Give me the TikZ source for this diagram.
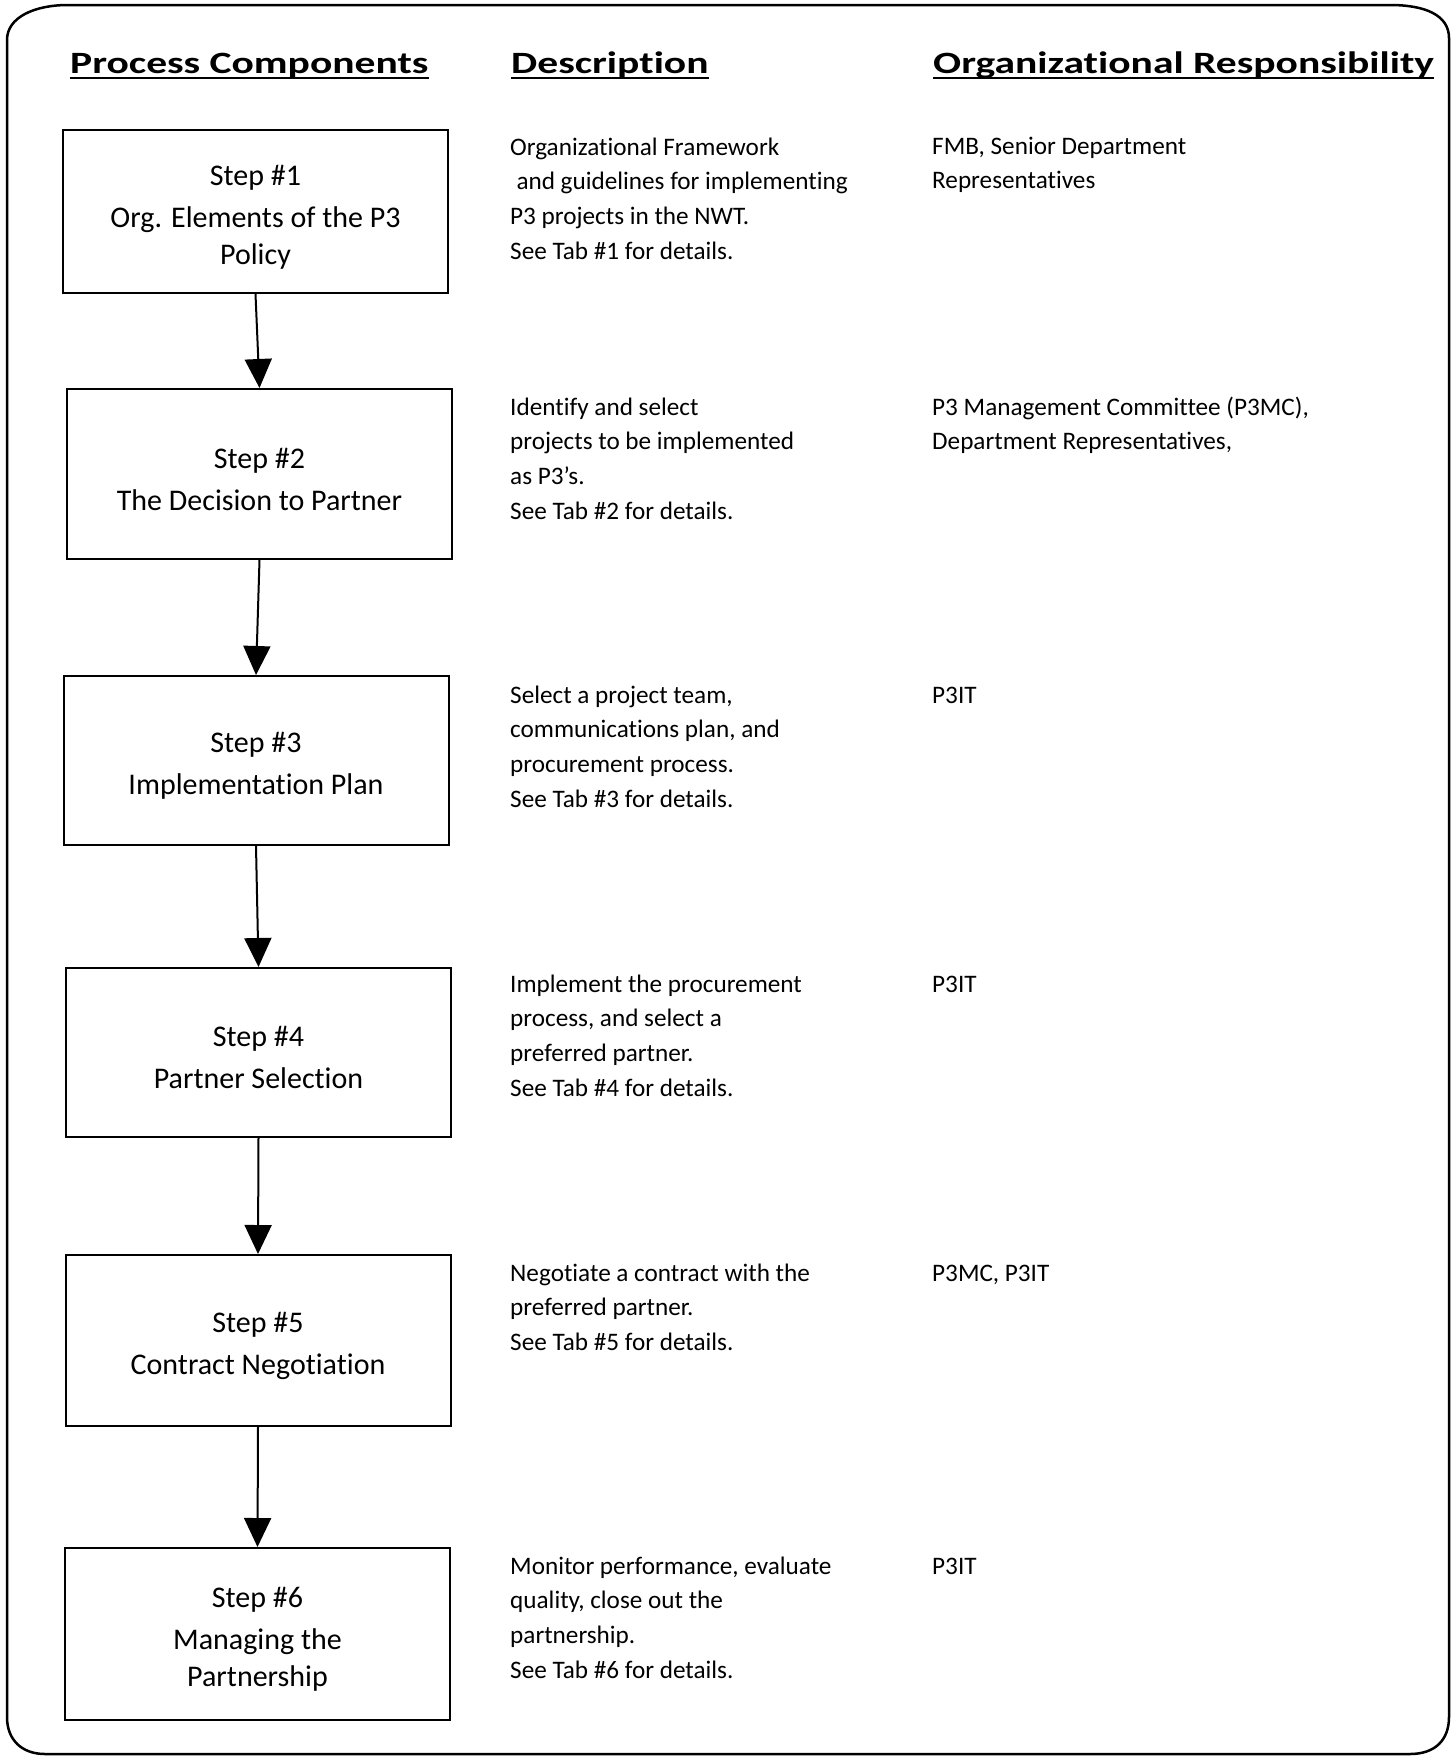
\documentclass[tikz,border=0pt]{standalone}
\usepackage{fontspec}
\setmainfont{Carlito}[RawFeature={-liga;-clig;-calt;-dlig}]
\newfontfamily\hdrfont{Carlito}[FakeStretch=1.34,RawFeature={-liga;-clig;-calt;-dlig}]
\usetikzlibrary{arrows.meta}
\newcommand\desclines[1]{\begin{tabular}[t]{@{}l@{}}#1\end{tabular}}
\tikzset{
  stepbox/.style={draw, line width=2pt, minimum width=385pt, inner sep=0pt},
  steptext/.style={inner sep=0pt, align=center, font=\fontsize{30}{37}\selectfont},
  flow/.style={line width=2pt, -{Triangle[width=27pt,length=29pt]}},
  hdr/.style={anchor=base west, inner sep=0pt, font=\hdrfont\bfseries\fontsize{31}{37}\selectfont},
  txt/.style={anchor=base west, inner sep=0pt, font=\fontsize{25.2}{34.8}\selectfont},
  frame/.style={line width=2.5pt, line join=round},
  uline/.style={line width=2pt}
}
\begin{document}
\begin{tikzpicture}[x=1pt,y=-1pt]
\useasboundingbox (0,0) rectangle (1455,1756);
% outer frame
\draw[frame] (68,5) -- (1390,5) .. controls (1425,5) and (1449,15) .. (1449,38)
  -- (1449,1717) .. controls (1449,1740) and (1435,1754) .. (1410,1754)
  -- (45,1754) .. controls (22,1754) and (7,1740) .. (7,1717)
  -- (7,40) .. controls (7,17) and (35,5) .. (68,5) -- cycle;
% headers
\node[hdr] (h1) at (70,73) {Process Components};
\node[hdr] (h2) at (511,73) {Description};
\node[hdr] (h3) at (933,73) {Organizational Responsibility};
\foreach \h in {h1,h2,h3}
  \draw[uline] ([yshift=-5pt]\h.base west) -- ([yshift=-5pt]\h.base east);
% step boxes
\node[stepbox, minimum height=163pt] (b1) at (255.5,211.5) {};
\node[stepbox, minimum height=170pt] (b2) at (259.5,474) {};
\node[stepbox, minimum height=169pt] (b3) at (256,760.5) {};
\node[stepbox, minimum height=169pt] (b4) at (258.5,1052.5) {};
\node[stepbox, minimum height=171pt] (b5) at (258,1340.5) {};
\node[stepbox, minimum height=172pt] (b6) at (257.5,1634) {};
\node[steptext] (t1) at ([yshift=-6pt]b1.center) {Step \#1\\[5pt]Org. Elements of the P3\\Policy};
\node[steptext] (t2) at ([yshift=-5pt]b2.center) {Step \#2\\[5pt]The Decision to Partner};
\node[steptext] (t3) at ([yshift=-5pt]b3.center) {Step \#3\\[5pt]Implementation Plan};
\node[steptext] (t4) at ([yshift=-5pt]b4.center) {Step \#4\\[5pt]Partner Selection};
\node[steptext] (t5) at ([yshift=-5pt]b5.center) {Step \#5\\[5pt]Contract Negotiation};
\node[steptext] (t6) at ([yshift=-5pt]b6.center) {Step \#6\\[5pt]Managing the\\Partnership};
% connectors
\draw[flow] (b1.south) -- (b2.north);
\draw[flow] (b2.south) -- (b3.north);
\draw[flow] (b3.south) -- (b4.north);
\draw[flow] (b4.south) -- (b5.north);
\draw[flow] (b5.south) -- (b6.north);
% descriptions
\node[txt] (d1) at (510,155) {\desclines{Organizational Framework\\\hspace{0.25em}and guidelines for implementing\\P3 projects in the NWT.\\See Tab \#1 for details.}};
\node[txt] (d2) at (510,415) {\desclines{Identify and select\\projects to be implemented\\as P3’s.\\See Tab \#2 for details.}};
\node[txt] (d3) at (510,703) {\desclines{Select a project team,\\communications plan, and\\procurement process.\\See Tab \#3 for details.}};
\node[txt] (d4) at (510,992) {\desclines{Implement the procurement\\process, and select a\\preferred partner.\\See Tab \#4 for details.}};
\node[txt] (d5) at (510,1281) {\desclines{Negotiate a contract with the\\preferred partner.\\See Tab \#5 for details.}};
\node[txt] (d6) at (510,1574) {\desclines{Monitor performance, evaluate\\quality, close out the\\partnership.\\See Tab \#6 for details.}};
% responsibilities
\node[txt] (r1) at (932,154) {\desclines{FMB, Senior Department\\Representatives}};
\node[txt] (r2) at (932,415) {\desclines{P3 Management Committee (P3MC),\\Department Representatives,}};
\node[txt] (r3) at (932,703) {P3IT};
\node[txt] (r4) at (932,992) {P3IT};
\node[txt] (r5) at (932,1281) {P3MC, P3IT};
\node[txt] (r6) at (932,1574) {P3IT};
\end{tikzpicture}
\end{document}
